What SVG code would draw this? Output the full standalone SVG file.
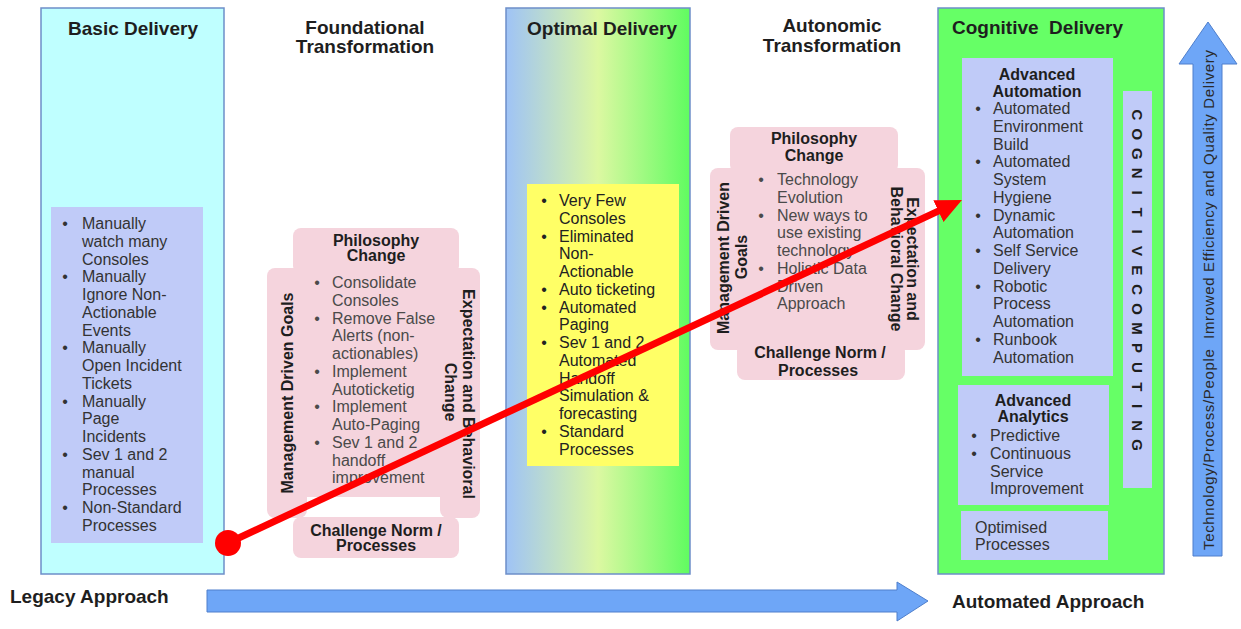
<svg xmlns="http://www.w3.org/2000/svg" width="1241" height="629" viewBox="0 0 1241 629">
<defs>
<linearGradient id="optGrad" x1="0" y1="0" x2="1" y2="0">
<stop offset="0" stop-color="#9fc3f6"/>
<stop offset="0.5" stop-color="#dcf8a2"/>
<stop offset="1" stop-color="#60fc60"/>
</linearGradient>
<marker id="redHead" markerUnits="userSpaceOnUse" markerWidth="30" markerHeight="30" refX="1" refY="12" orient="auto">
<path d="M0,0 L26,12 L0,24 Z" fill="#ff0000"/>
</marker>
<style>
.stage{stroke:#6d8fc9;stroke-width:1.5}
.lav{fill:#c0cbf8}
.pink{fill:#f5d4dd}
.title{font-family:"Liberation Sans",Arial,sans-serif;font-weight:bold;font-size:19px;fill:#1e1e1e}
.head{font-family:"Liberation Sans",Arial,sans-serif;font-weight:bold;font-size:16px;fill:#1e1e1e}
.li{font-family:"Liberation Sans",Arial,sans-serif;font-size:16px;fill:#333}
.lip{font-family:"Liberation Sans",Arial,sans-serif;font-size:16px;fill:#4a4a4a}
.mid{text-anchor:middle}
.rot{text-anchor:middle;dominant-baseline:central}
.blue{fill:#6ea6f7;stroke:#4f7fcc;stroke-width:1}
</style>
</defs>
<rect width="1241" height="629" fill="#ffffff"/>

<g id="basic-delivery">
<rect class="stage" x="41" y="8" width="183" height="566" fill="#bfffff"/>
<text class="title mid" x="133" y="35">Basic Delivery</text>
<rect class="lav" x="51" y="207" width="152" height="336"/>
<g class="li">
<text x="65" y="229" class="mid">•</text><text x="82" y="229">Manually</text>
<text x="82" y="246.75">watch many</text>
<text x="82" y="264.5">Consoles</text>
<text x="65" y="282.25" class="mid">•</text><text x="82" y="282.25">Manually</text>
<text x="82" y="300">Ignore Non-</text>
<text x="82" y="317.75">Actionable</text>
<text x="82" y="335.5">Events</text>
<text x="65" y="353.25" class="mid">•</text><text x="82" y="353.25">Manually</text>
<text x="82" y="371">Open Incident</text>
<text x="82" y="388.75">Tickets</text>
<text x="65" y="406.5" class="mid">•</text><text x="82" y="406.5">Manually</text>
<text x="82" y="424.25">Page</text>
<text x="82" y="442">Incidents</text>
<text x="65" y="459.75" class="mid">•</text><text x="82" y="459.75">Sev 1 and 2</text>
<text x="82" y="477.5">manual</text>
<text x="82" y="495.25">Processes</text>
<text x="65" y="513" class="mid">•</text><text x="82" y="513">Non-Standard</text>
<text x="82" y="530.75">Processes</text>
</g>
</g>

<g id="foundational-transformation">
<text class="title mid" x="365" y="34">Foundational</text>
<text class="title mid" x="365" y="53">Transformation</text>
<rect class="pink" x="293" y="228" width="166" height="46" rx="8"/>
<rect class="pink" x="267" y="268" width="40" height="250" rx="8"/>
<rect class="pink" x="440" y="268" width="40" height="250" rx="8"/>
<rect class="pink" x="300" y="268" width="147" height="229"/>
<rect class="pink" x="293" y="517" width="166" height="41" rx="8"/>
<text class="head mid" x="376" y="246">Philosophy</text>
<text class="head mid" x="376" y="261">Change</text>
<text class="head mid" x="376" y="536">Challenge Norm /</text>
<text class="head mid" x="376" y="551">Processes</text>
<text class="head rot" transform="translate(287,393) rotate(-90)">Management Driven Goals</text>
<text class="head rot" transform="translate(468,394) rotate(90)">Expectation and Behavioral</text>
<text class="head rot" transform="translate(450,392) rotate(90)">Change</text>
<g class="lip">
<text x="317" y="288" class="mid">•</text><text x="332" y="288">Consolidate</text>
<text x="332" y="305.75">Consoles</text>
<text x="317" y="323.5" class="mid">•</text><text x="332" y="323.5">Remove False</text>
<text x="332" y="341.25">Alerts (non-</text>
<text x="332" y="359">actionables)</text>
<text x="317" y="376.75" class="mid">•</text><text x="332" y="376.75">Implement</text>
<text x="332" y="394.5">Autoticketig</text>
<text x="317" y="412.25" class="mid">•</text><text x="332" y="412.25">Implement</text>
<text x="332" y="430">Auto-Paging</text>
<text x="317" y="447.75" class="mid">•</text><text x="332" y="447.75">Sev 1 and 2</text>
<text x="332" y="465.5">handoff</text>
<text x="332" y="483.25">improvement</text>
</g>
</g>

<g id="optimal-delivery">
<rect class="stage" x="506" y="8" width="184" height="566" fill="url(#optGrad)"/>
<text class="title mid" x="602" y="35">Optimal Delivery</text>
<rect x="527" y="184" width="152" height="282" fill="#ffff66"/>
<g class="li" style="fill:#222">
<text x="544" y="206" class="mid">•</text><text x="559" y="206">Very Few</text>
<text x="559" y="223.75">Consoles</text>
<text x="544" y="241.5" class="mid">•</text><text x="559" y="241.5">Eliminated</text>
<text x="559" y="259.25">Non-</text>
<text x="559" y="277">Actionable</text>
<text x="544" y="294.75" class="mid">•</text><text x="559" y="294.75">Auto ticketing</text>
<text x="544" y="312.5" class="mid">•</text><text x="559" y="312.5">Automated</text>
<text x="559" y="330.25">Paging</text>
<text x="544" y="348" class="mid">•</text><text x="559" y="348">Sev 1 and 2</text>
<text x="559" y="365.75">Automated</text>
<text x="559" y="383.5">Handoff</text>
<text x="559" y="401.25">Simulation &amp;</text>
<text x="559" y="419">forecasting</text>
<text x="544" y="436.75" class="mid">•</text><text x="559" y="436.75">Standard</text>
<text x="559" y="454.5">Processes</text>
</g>
</g>

<g id="autonomic-transformation">
<text class="title mid" x="832" y="32">Autonomic</text>
<text class="title mid" x="832" y="52">Transformation</text>
<rect class="pink" x="730" y="127" width="168" height="46" rx="8"/>
<rect class="pink" x="710" y="168" width="215" height="182" rx="8"/>
<rect class="pink" x="737" y="343" width="168" height="37" rx="8"/>
<text class="head mid" x="814" y="144">Philosophy</text>
<text class="head mid" x="814" y="161">Change</text>
<text class="head mid" x="820" y="358">Challenge Norm /</text>
<text class="head mid" x="818" y="376">Processes</text>
<text class="head rot" transform="translate(723,258) rotate(-90)">Management Driven</text>
<text class="head rot" transform="translate(741,257) rotate(-90)">Goals</text>
<text class="head rot" transform="translate(912,259) rotate(90)">Expectation and</text>
<text class="head rot" transform="translate(896,259) rotate(90)">Behavioral Change</text>
<g class="lip">
<text x="761" y="185" class="mid">•</text><text x="777" y="185">Technology</text>
<text x="777" y="202.75">Evolution</text>
<text x="761" y="220.5" class="mid">•</text><text x="777" y="220.5">New ways to</text>
<text x="777" y="238.25">use existing</text>
<text x="777" y="256">technology</text>
<text x="761" y="273.75" class="mid">•</text><text x="777" y="273.75">Holistic Data</text>
<text x="777" y="291.5">Driven</text>
<text x="777" y="309.25">Approach</text>
</g>
</g>

<g id="cognitive-delivery">
<rect class="stage" x="938" y="8" width="226" height="566" fill="#66ff66"/>
<text class="title" x="952" y="34" xml:space="preserve">Cognitive  Delivery</text>
<g id="advanced-automation">
<rect class="lav" x="962" y="58" width="151" height="318"/>
<text class="head mid" x="1037" y="80">Advanced</text>
<text class="head mid" x="1037" y="97">Automation</text>
<g class="li">
<text x="978" y="114" class="mid">•</text><text x="993" y="114">Automated</text>
<text x="993" y="131.75">Environment</text>
<text x="993" y="149.5">Build</text>
<text x="978" y="167.25" class="mid">•</text><text x="993" y="167.25">Automated</text>
<text x="993" y="185">System</text>
<text x="993" y="202.75">Hygiene</text>
<text x="978" y="220.5" class="mid">•</text><text x="993" y="220.5">Dynamic</text>
<text x="993" y="238.25">Automation</text>
<text x="978" y="256" class="mid">•</text><text x="993" y="256">Self Service</text>
<text x="993" y="273.75">Delivery</text>
<text x="978" y="291.5" class="mid">•</text><text x="993" y="291.5">Robotic</text>
<text x="993" y="309.25">Process</text>
<text x="993" y="327">Automation</text>
<text x="978" y="344.75" class="mid">•</text><text x="993" y="344.75">Runbook</text>
<text x="993" y="362.5">Automation</text>
</g>
</g>
<g id="cognitive-computing">
<rect class="lav" x="1123" y="91" width="29" height="397"/>
<text class="head rot" style="font-size:15px" transform="translate(1137,0) rotate(90)" x="115 134.4 153.8 173.2 192.6 212.1 231.5 250.9 270.3 280 289.7 309.1 328.5 347.9 367.3 386.8 406.2 425.6 445" y="0">COGNITIVE COMPUTING</text>
</g>
<g id="advanced-analytics">
<rect class="lav" x="958" y="385" width="151" height="120"/>
<text class="head mid" x="1033" y="406">Advanced</text>
<text class="head mid" x="1033" y="422">Analytics</text>
<g class="li">
<text x="974" y="441" class="mid">•</text><text x="990" y="441">Predictive</text>
<text x="974" y="458.75" class="mid">•</text><text x="990" y="458.75">Continuous</text>
<text x="990" y="476.5">Service</text>
<text x="990" y="494.25">Improvement</text>
</g>
</g>
<g id="optimised-processes">
<rect class="lav" x="961" y="511" width="147" height="49"/>
<text class="li" x="975" y="533">Optimised</text>
<text class="li" x="975" y="550">Processes</text>
</g>
</g>

<g id="quality-axis">
<polygon class="blue" points="1193,556 1193,64 1179,64 1208,22 1237,64 1222,64 1222,556"/>
<text class="li rot" style="font-size:15px;fill:#2a2a2a" transform="translate(1208,300) rotate(-90)" textLength="500" lengthAdjust="spacing" xml:space="preserve">Technology/Process/People  Imrowed Efficiency and Quality Delivery</text>
</g>

<g id="approach-axis">
<text class="title" x="10" y="603">Legacy Approach</text>
<polygon class="blue" points="207,590 897,590 897,582 928,601 897,621 897,612 207,612"/>
<text class="title" x="952" y="608">Automated Approach</text>
</g>

<g id="connectors">
<line x1="228" y1="543" x2="939.3" y2="210.6" stroke="#ff0000" stroke-width="7" marker-end="url(#redHead)"/>
<circle cx="228" cy="543" r="13" fill="#ff0000"/>
</g>
</svg>
